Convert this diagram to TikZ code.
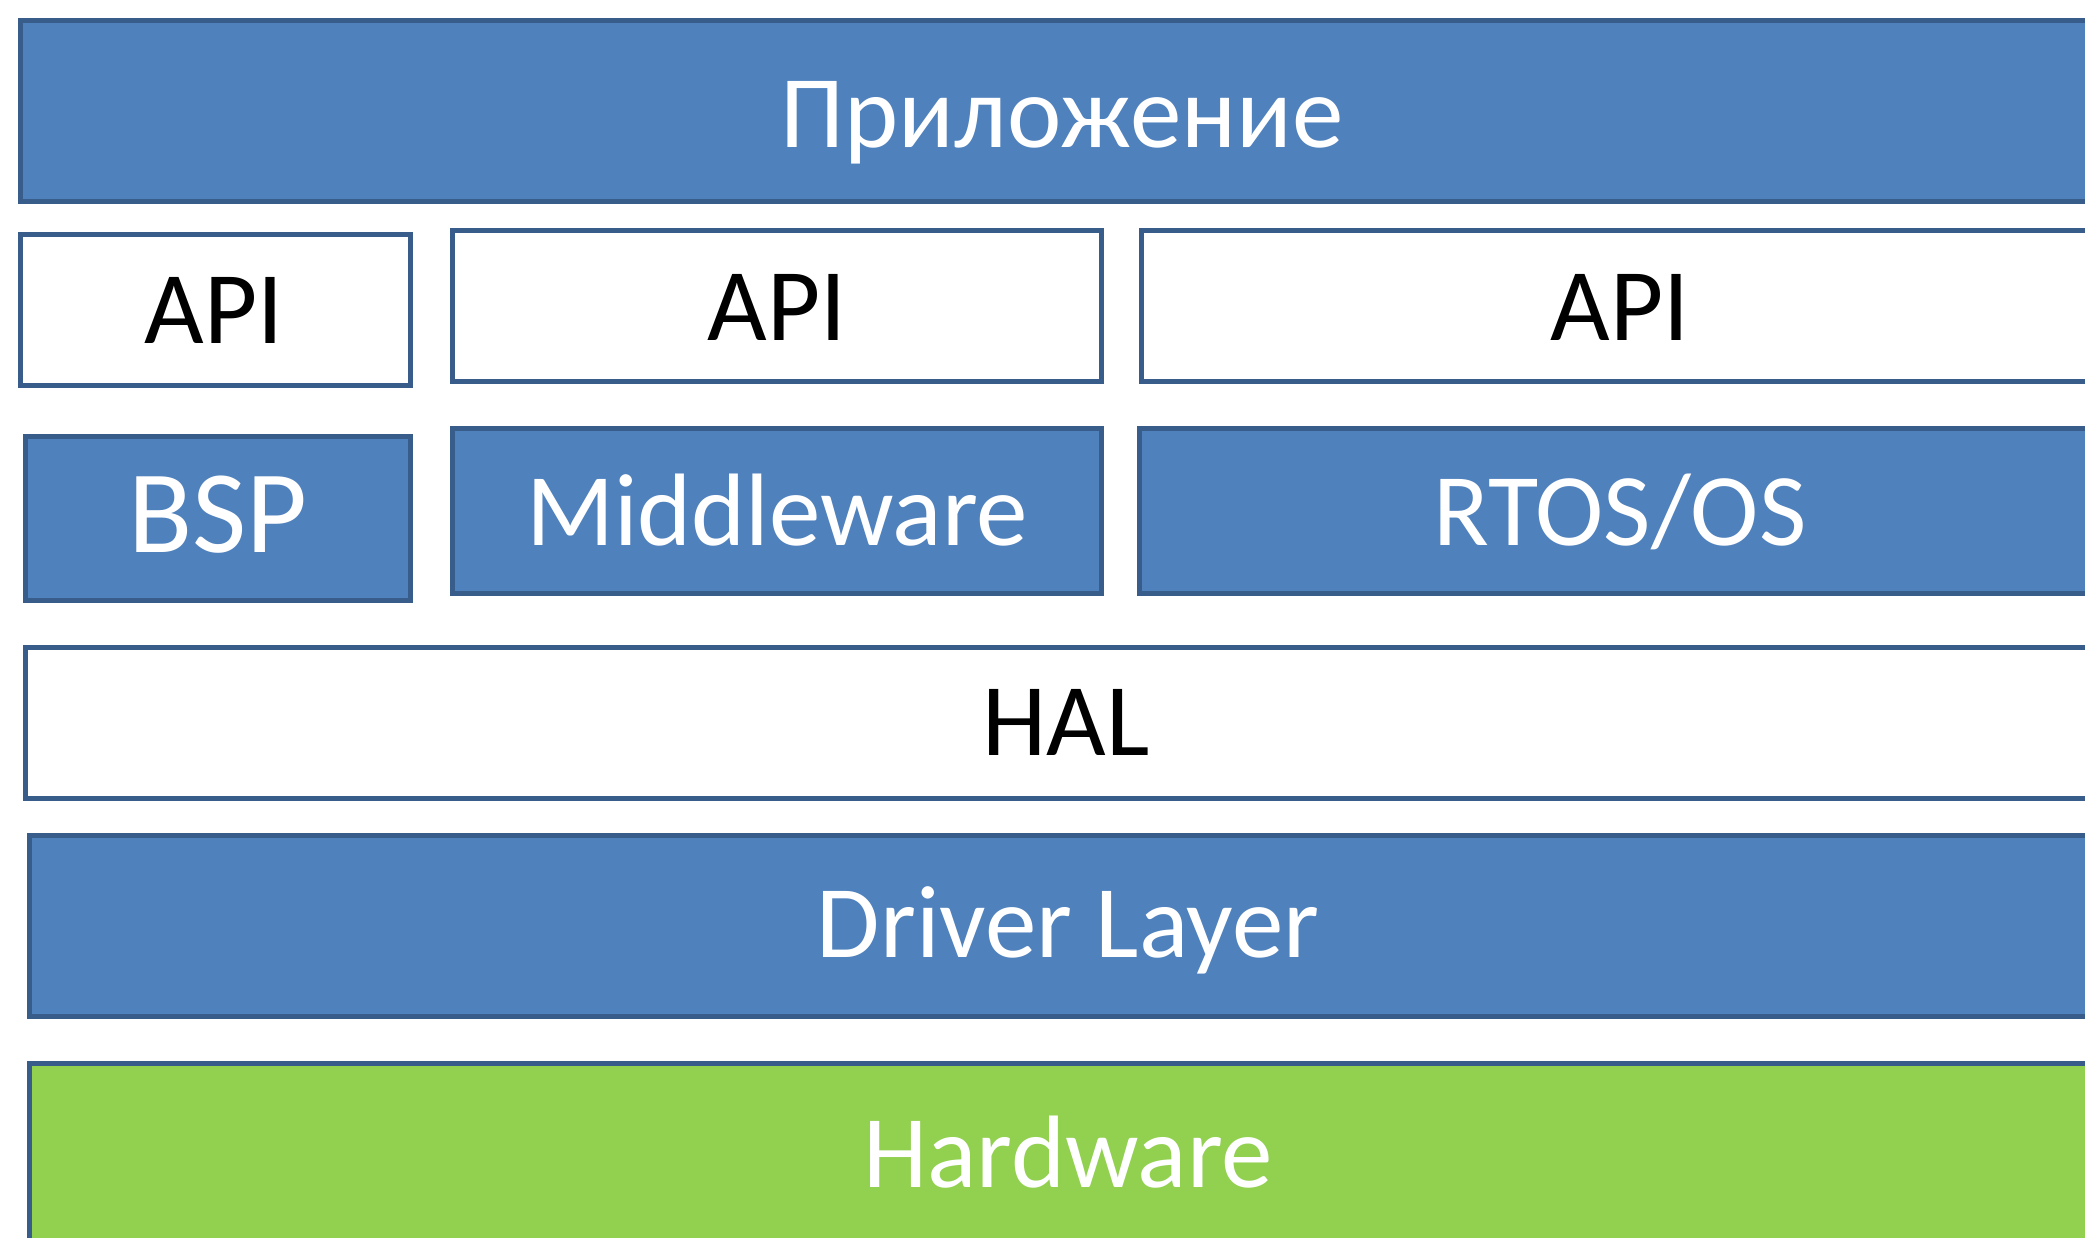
\documentclass[tikz,border=0pt]{standalone}
\usepackage{fontspec}
\setmainfont{Carlito}
\definecolor{boxblue}{HTML}{4F81BD}
\definecolor{edgeblue}{HTML}{385D8A}
\definecolor{hwgreen}{HTML}{92D050}
\begin{document}
\begin{tikzpicture}[x=1pt,y=-1pt,
  layer/.style={draw=edgeblue, line width=5pt, inner sep=0pt, outer sep=0pt, anchor=north west},
  bluebox/.style={layer, fill=boxblue},
  whitebox/.style={layer, fill=white},
  greenbox/.style={layer, fill=hwgreen},
  wtext/.style={text=white, font=\fontsize{103}{103}\selectfont, anchor=base, inner sep=0pt},
  btext/.style={wtext, text=black}]
\useasboundingbox (0,0) rectangle (2085,1237);
\clip (0,0) rectangle (2085,1237);
% boxes
\node[bluebox, minimum width=2085pt, minimum height=181pt] (app) at (20,20) {};
\node[whitebox, minimum width=390pt, minimum height=150.5pt] (api1) at (20.5,234.5) {};
\node[whitebox, minimum width=648.5pt, minimum height=151pt] (api2) at (452.5,230.5) {};
\node[whitebox, minimum width=964pt, minimum height=151pt] (api3) at (1141,230.5) {};
\node[bluebox, minimum width=385pt, minimum height=164.5pt] (bsp) at (25,436) {};
\node[bluebox, minimum width=648.5pt, minimum height=165pt] (mw) at (452.5,428) {};
\node[bluebox, minimum width=965.5pt, minimum height=165pt] (rtos) at (1139.5,428) {};
\node[whitebox, minimum width=2080pt, minimum height=151pt] (hal) at (25,647) {};
\node[bluebox, minimum width=2076pt, minimum height=181pt] (drv) at (29,835) {};
\node[greenbox, minimum width=2076pt, minimum height=250pt] (hw) at (29,1063) {};
% labels
\node[wtext] (appT) at (1062,147) {Приложение};
\node[btext] (api1T) at (214,343) {API};
\node[btext] (api2T) at (777,340) {API};
\node[btext] (api3T) at (1620,340) {API};
\node[wtext, font=\fontsize{118}{118}\selectfont] (bspT) at (218,552) {BSP};
\node[wtext] (mwT) at (777,545) {Middleware};
\node[wtext] (rtosT) at (1620,545) {RTOS/OS};
\node[btext] (halT) at (1066,755) {HAL};
\node[wtext] (drvT) at (1068,957) {Driver Layer};
\node[wtext] (hwT) at (1068,1187) {Hardware};
\end{tikzpicture}
\end{document}
